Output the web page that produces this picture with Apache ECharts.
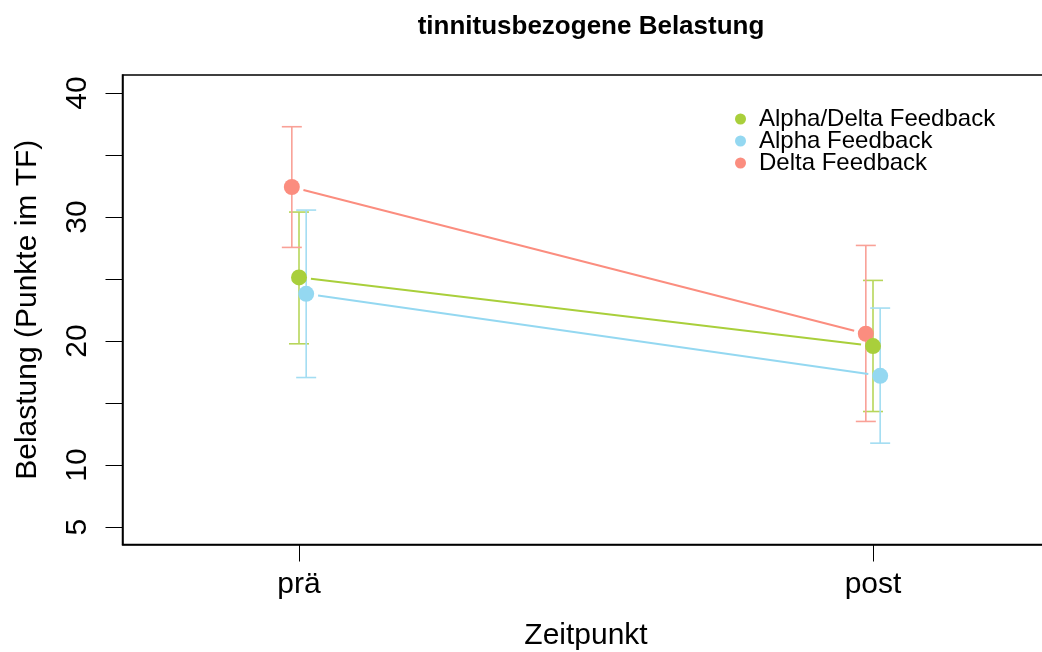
<!DOCTYPE html>
<html>
<head>
<meta charset="utf-8">
<script src="https://cdn.jsdelivr.net/npm/echarts@6/dist/echarts.min.js"></script>
<style>html,body{margin:0;padding:0;background:#fff}#c{width:1042px;height:652px}</style>
</head>
<body>
<div id="c"></div>
<script>
const categories = ['prä', 'post'];
const groupNames = ['Alpha/Delta Feedback', 'Alpha Feedback', 'Delta Feedback'];
const meanAlphaDelta = [25.13, 19.60];
const upperAlphaDelta = [30.40, 24.89];
const lowerAlphaDelta = [19.78, 14.32];
const meanAlpha = [23.81, 17.20];
const upperAlpha = [30.56, 22.66];
const lowerAlpha = [17.06, 11.77];
const meanDelta = [32.42, 20.59];
const upperDelta = [37.28, 27.71];
const lowerDelta = [27.55, 13.52];
const yTicks = [5, 10, 15, 20, 25, 30, 35, 40];
const yTickLabels = [5, 10, 20, 30, 40];

const FONT = "'Liberation Sans', Helvetica, Arial, sans-serif";
const groups = [
  {name: groupNames[0], mean: meanAlphaDelta, up: upperAlphaDelta, lo: lowerAlphaDelta, color: '#A9CF3B', bar: '#B7D65A', off: 0, z: 11},
  {name: groupNames[1], mean: meanAlpha, up: upperAlpha, lo: lowerAlpha, color: '#94D8F1', bar: '#A3DDF2', off: 0.0125, z: 12},
  {name: groupNames[2], mean: meanDelta, up: upperDelta, lo: lowerDelta, color: '#FB8D7F', bar: '#F9A197', off: -0.0125, z: 10}
];

const series = [];
groups.forEach(g => {
  // error bars
  series.push({
    type: 'custom', name: g.name + ' SE', z: 2, silent: true,
    data: categories.map((c, i) => [i + 1 + g.off, g.lo[i], g.up[i]]),
    encode: {x: 0, y: [1, 2]},
    renderItem: function (params, api) {
      const x = api.value(0);
      const top = api.coord([x, api.value(2)]);
      const bot = api.coord([x, api.value(1)]);
      const hw = 10;
      const st = {stroke: g.bar, lineWidth: 1.6};
      return {type: 'group', children: [
        {type: 'line', shape: {x1: top[0], y1: top[1], x2: bot[0], y2: bot[1]}, style: st},
        {type: 'line', shape: {x1: top[0] - hw, y1: top[1], x2: top[0] + hw, y2: top[1]}, style: st},
        {type: 'line', shape: {x1: bot[0] - hw, y1: bot[1], x2: bot[0] + hw, y2: bot[1]}, style: st}
      ]};
    }
  });
  // connecting line with gaps (R type "b")
  series.push({
    type: 'custom', name: g.name + ' line', z: 3, silent: true,
    data: [[1 + g.off, g.mean[0], 2 + g.off, g.mean[1]]],
    encode: {x: [0, 2], y: [1, 3]},
    renderItem: function (params, api) {
      const a = api.coord([api.value(0), api.value(1)]);
      const b = api.coord([api.value(2), api.value(3)]);
      const dx = b[0] - a[0], dy = b[1] - a[1];
      const L = Math.sqrt(dx * dx + dy * dy);
      const gap = 12;
      const ux = dx / L, uy = dy / L;
      return {type: 'line', shape: {x1: a[0] + ux * gap, y1: a[1] + uy * gap, x2: b[0] - ux * gap, y2: b[1] - uy * gap},
        style: {stroke: g.color, lineWidth: 2}};
    }
  });
  // points
  series.push({
    type: 'scatter', name: g.name, z: g.z, symbol: 'circle', symbolSize: 16,
    itemStyle: {color: g.color, opacity: 1},
    data: categories.map((c, i) => [i + 1 + g.off, g.mean[i]])
  });
});

const chart = echarts.init(document.getElementById('c'), null, {renderer: 'canvas'});
chart.setOption({
  animation: false,
  backgroundColor: '#fff',
  title: {
    text: 'tinnitusbezogene Belastung',
    left: 586, top: 9, textAlign: 'center',
    textStyle: {fontFamily: FONT, fontSize: 26, fontWeight: 'bold', color: '#000'}
  },
  legend: {
    orient: 'vertical', left: 730, top: 102, itemGap: -2, itemWidth: 11, itemHeight: 11,
    data: groupNames.map(n => ({name: n, icon: 'circle'})),
    textStyle: {fontFamily: FONT, fontSize: 24, color: '#000', lineHeight: 20, padding: [0, 0, 0, 8]}
  },
  grid: {left: 122.5, top: 75, width: 927, height: 469.5, outerBoundsMode: 'none', containLabel: false,
    show: true, borderColor: '#000', borderWidth: 1.5, backgroundColor: 'transparent'},
  xAxis: {
    type: 'value', min: 0.6925, max: 2.3075,
    name: 'Zeitpunkt', nameLocation: 'middle', nameGap: 76,
    nameTextStyle: {fontFamily: FONT, fontSize: 30, color: '#000'},
    axisLine: {show: true, lineStyle: {color: '#000', width: 1.5}},
    axisTick: {show: true, length: 17, customValues: [1, 2], lineStyle: {color: '#000', width: 1}},
    axisLabel: {show: true, customValues: [1, 2], margin: 25, fontFamily: FONT, fontSize: 30, color: '#000',
      formatter: v => categories[Math.round(v) - 1]},
    splitLine: {show: false}
  },
  yAxis: {
    type: 'value', min: 3.6, max: 41.45,
    name: 'Belastung (Punkte im TF)', nameLocation: 'middle', nameGap: 80, nameRotate: 90,
    nameTextStyle: {fontFamily: FONT, fontSize: 30, color: '#000'},
    axisLine: {show: true, lineStyle: {color: '#000', width: 1.5}},
    axisTick: {show: true, length: 17, customValues: yTicks, lineStyle: {color: '#000', width: 1}},
    axisLabel: {show: true, customValues: yTickLabels, rotate: 90, margin: 30, fontFamily: FONT, fontSize: 30, color: '#000'},
    splitLine: {show: false}
  },
  series: series
});
</script>
</body>
</html>
